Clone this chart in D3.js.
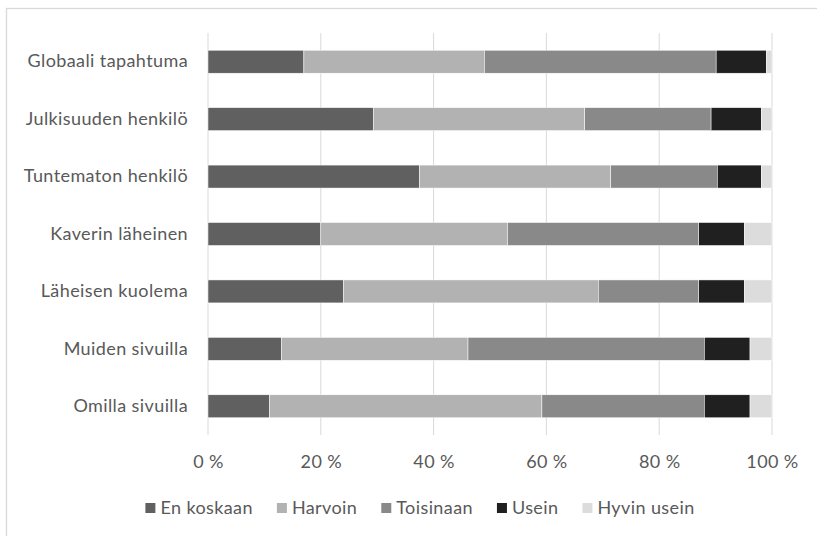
<!DOCTYPE html>
<html>
<head>
<meta charset="utf-8">
<script src="https://cdn.jsdelivr.net/npm/d3@7"></script>
<style>
  body { margin: 0; background: #fff; }
  svg text { font-family: Lato, "Open Sans", sans-serif; fill: #595959; font-size: 18px; letter-spacing: 0.4px; }
</style>
</head>
<body>
<svg id="chart" width="817" height="536"></svg>
<script>
let w = 817
let h = 536

// data (percent of answers)
let categories = ["Globaali tapahtuma", "Julkisuuden henkilö", "Tuntematon henkilö",
  "Kaverin läheinen", "Läheisen kuolema", "Muiden sivuilla", "Omilla sivuilla"]
let seriesNames = ["En koskaan", "Harvoin", "Toisinaan", "Usein", "Hyvin usein"]
let enKoskaan  = [17.0, 29.3, 37.5, 20.0, 24.0, 13.0, 10.9]
let harvoin    = [32.0, 37.5, 33.9, 33.1, 45.2, 33.1, 48.3]
let toisinaan  = [41.1, 22.4, 18.9, 33.9, 17.8, 41.9, 28.8]
let usein      = [ 8.9,  8.9,  7.8,  8.1,  8.1,  8.1,  8.1]
let hyvinUsein = [ 1.0,  1.9,  1.9,  4.9,  4.9,  3.9,  3.9]
let tickLabels = ["0 %", "20 %", "40 %", "60 %", "80 %", "100 %"]

let colorArr = ["#606060", "#b2b2b2", "#898989", "#202020", "#dcdcdc"]

let rows = categories.map((c, i) => ({
  name: c,
  "En koskaan": enKoskaan[i],
  "Harvoin": harvoin[i],
  "Toisinaan": toisinaan[i],
  "Usein": usein[i],
  "Hyvin usein": hyvinUsein[i]
}))

let svg = d3.select('#chart')

// outer frame
svg.append('rect')
  .attr('x', 6.5).attr('y', 8.5)
  .attr('width', w).attr('height', h)
  .attr('fill', 'none')
  .attr('stroke', '#d9d9d9')
  .attr('stroke-width', 1.3)

let x = d3.scaleLinear().domain([0, 100]).range([208, 772])
let y = d3.scaleBand().domain(categories).range([33, 435]).paddingInner(0.6).paddingOuter(0.3)

// gridlines
svg.selectAll('.grid')
  .data(d3.range(0, 101, 20))
  .join('line')
  .attr('class', 'grid')
  .attr('x1', d => x(d)).attr('x2', d => x(d))
  .attr('y1', 33).attr('y2', 435)
  .attr('stroke', '#d9d9d9')
  .attr('stroke-width', 1)

let stack = d3.stack().keys(seriesNames)(rows)

svg.selectAll('.series')
  .data(stack)
  .join('g')
  .attr('class', 'series')
  .attr('fill', (d, i) => colorArr[i])
  .selectAll('rect')
  .data(d => d)
  .join('rect')
  .attr('x', d => x(d[0]))
  .attr('width', d => x(d[1]) - x(d[0]))
  .attr('y', d => y(d.data.name))
  .attr('height', y.bandwidth())
  .attr('stroke', '#ffffff')
  .attr('stroke-width', 0.5)

// category labels
let yAxis = svg.append('g')
  .attr('transform', 'translate(208,0)')
  .call(d3.axisLeft(y).tickSize(0).tickPadding(20))
yAxis.select('.domain').remove()
yAxis.selectAll('text').attr('font-size', null).attr('font-family', null)

// x axis labels
let xAxis = svg.append('g')
  .attr('transform', 'translate(0,452)')
  .call(d3.axisBottom(x).tickValues(d3.range(0, 101, 20)).tickSize(0)
    .tickFormat((d, i) => tickLabels[i]))
xAxis.select('.domain').remove()
xAxis.selectAll('text').attr('font-size', null).attr('font-family', null)

// legend, centred in the chart area
let legend = svg.append('g').attr('class', 'legend')
let items = legend.selectAll('.legend-item')
  .data(seriesNames)
  .join('g')
  .attr('class', 'legend-item')

items.append('rect')
  .attr('x', 0).attr('y', -5)
  .attr('width', 10).attr('height', 10)
  .attr('fill', (d, i) => colorArr[i])

items.append('text')
  .text(d => d)
  .attr('x', 15)
  .attr('y', 0)
  .attr('dy', '0.35em')

let pos = 0
items.each(function () {
  let g = d3.select(this)
  g.attr('transform', 'translate(' + pos + ',0)')
  pos += 15 + g.select('text').node().getComputedTextLength() + 24
})
pos -= 24
legend.attr('transform', 'translate(' + (420 - pos / 2) + ',508)')
</script>
</body>
</html>
